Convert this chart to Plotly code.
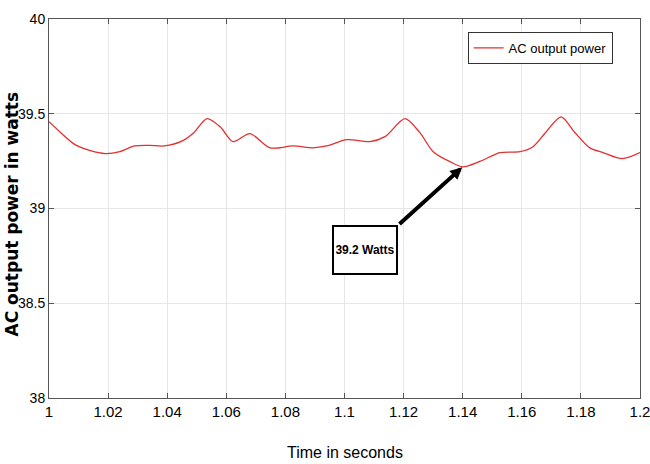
import plotly.graph_objects as go

time_s = [1.0, 1.004, 1.0088, 1.014, 1.019, 1.024, 1.029, 1.034, 1.039, 1.0453, 1.049, 1.0535,
          1.058, 1.0623, 1.068, 1.0748, 1.0826, 1.0893, 1.094, 1.1008, 1.1086, 1.1137, 1.1205,
          1.1255, 1.13, 1.1357, 1.140, 1.146, 1.1526, 1.1594, 1.1638, 1.168, 1.1733, 1.178,
          1.183, 1.1875, 1.194, 1.2]
power_w = [39.458, 39.40, 39.337, 39.305, 39.29, 39.30, 39.33, 39.333, 39.33, 39.358, 39.40, 39.474,
           39.43, 39.353, 39.395, 39.32, 39.33, 39.32, 39.33, 39.363, 39.353, 39.379, 39.474,
           39.40, 39.30, 39.247, 39.22, 39.25, 39.295, 39.30, 39.326, 39.40, 39.484, 39.40,
           39.32, 39.295, 39.263, 39.295]

x_ticks = [1.0, 1.02, 1.04, 1.06, 1.08, 1.1, 1.12, 1.14, 1.16, 1.18, 1.2]
x_tick_text = ["1", "1.02", "1.04", "1.06", "1.08", "1.1", "1.12", "1.14", "1.16", "1.18", "1.2"]
y_ticks = [38, 38.5, 39, 39.5, 40]
y_tick_text = ["38", "38.5", "39", "39.5", "40"]

ann_x, ann_y = 1.1401, 39.221
ann_tail_x, ann_tail_y = 1.1181, 38.911
ann_text = "39.2 Watts"

sans = "Liberation Sans, Arial, sans-serif"

fig = go.Figure()
fig.add_trace(go.Scatter(x=time_s, y=power_w, mode="lines", name="AC output power",
                         line=dict(color="#e2302e", width=1.3, shape="spline", smoothing=0.8)))

fig.add_annotation(x=ann_x, y=ann_y, ax=ann_tail_x, ay=ann_tail_y, axref="x", ayref="y",
                   xref="x", yref="y", text="", showarrow=True, arrowhead=2,
                   arrowsize=0.6, arrowwidth=4, arrowcolor="black", standoff=1)
fig.add_annotation(x=ann_tail_x, y=ann_tail_y, xref="x", yref="y", text="<b>" + ann_text + "</b>",
                   showarrow=False, xanchor="right", yanchor="top",
                   width=60, height=44, align="center", valign="middle",
                   font=dict(family=sans, size=12, color="black"),
                   bordercolor="black", borderwidth=2, borderpad=1, bgcolor="white")

# axis titles
fig.add_annotation(x=0, y=0.5, xref="paper", yref="paper", xshift=-38, yshift=-6,
                   text="<b>AC output power in watts</b>", textangle=-90, showarrow=False,
                   xanchor="center", yanchor="middle",
                   font=dict(family="DejaVu Sans, sans-serif", size=17, color="black"))
fig.add_annotation(x=0.5, y=0, xref="paper", yref="paper", yshift=-54,
                   text="Time in seconds", showarrow=False,
                   xanchor="center", yanchor="middle",
                   font=dict(family=sans, size=16, color="black"))

fig.update_layout(
    width=650, height=464,
    margin=dict(l=49, r=10, t=19, b=66, autoexpand=False),
    paper_bgcolor="white", plot_bgcolor="white",
    showlegend=True,
    legend=dict(x=0.831, y=0.966, xanchor="center", yanchor="top",
                bordercolor="#333", borderwidth=1, bgcolor="white",
                font=dict(family=sans, size=13, color="black"),
                itemwidth=30, tracegroupgap=0),
    xaxis=dict(range=[1.0, 1.2], tickvals=x_ticks, ticktext=x_tick_text, automargin=False,
               ticklabeloverflow="allow",
               showgrid=True, gridcolor="#e6e6e6", gridwidth=1,
               ticks="inside", ticklen=5, tickcolor="#555",
               showline=True, linecolor="#555", linewidth=1, mirror="ticks",
               zeroline=False,
               tickfont=dict(family=sans, size=15, color="black")),
    yaxis=dict(range=[38, 40], tickvals=y_ticks, ticktext=y_tick_text, automargin=False,
               ticklabeloverflow="allow",
               showgrid=True, gridcolor="#e6e6e6", gridwidth=1,
               ticks="inside", ticklen=5, tickcolor="#555",
               showline=True, linecolor="#555", linewidth=1, mirror="ticks",
               zeroline=False,
               tickfont=dict(family=sans, size=14, color="black")),
)

fig.write_html("out.html", config={"displayModeBar": False},
               post_script="document.body.style.margin='0';document.body.style.overflow='hidden';")
